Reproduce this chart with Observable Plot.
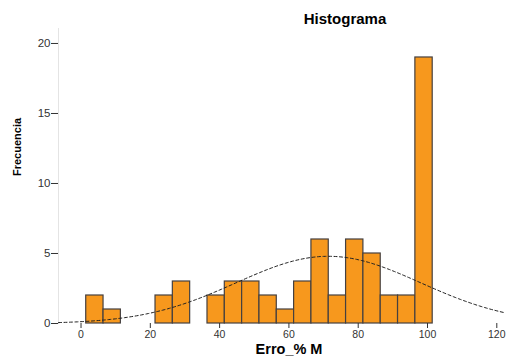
<!DOCTYPE html>
<html>
<head>
<meta charset="utf-8">
<script src="https://cdn.jsdelivr.net/npm/d3@7"></script>
<script src="https://cdn.jsdelivr.net/npm/@observablehq/plot@0.6"></script>
<style>
  html, body { margin: 0; padding: 0; background: white; }
</style>
</head>
<body>
<div id="chart"></div>
<script>
// Bin lower edges (bin width 5) and frequencies
const binLo = [1.5, 6.5, 21.5, 26.5, 36.5, 41.5, 46.5, 51.5, 56.5, 61.5, 66.5, 71.5, 76.5, 81.5, 86.5, 91.5, 96.5];
const counts = [2, 1, 2, 3, 2, 3, 3, 2, 1, 3, 6, 2, 6, 5, 2, 2, 19];
const binWidth = 5;
const xTicks = [0, 20, 40, 60, 80, 100, 120];
const yTicks = [0, 5, 10, 15, 20];
// Fitted normal curve parameters
const normalMean = 71.4;
const normalSd = 26.6;

const titleText = "Histograma";
const xLabel = "Erro_% M";
const yLabel = "Frecuencia";

const xDomain = [-6.5, 122.8];
const yDomain = [0, 21.07];

const bins = binLo.map((lo, i) => ({x1: lo, x2: lo + binWidth, y: counts[i]}));
const total = d3.sum(counts);
const curve = d3.range(xDomain[0], xDomain[1] + 0.01, 0.5).map(x => ({
  x,
  y: total * binWidth * Math.exp(-0.5 * ((x - normalMean) / normalSd) ** 2) / (normalSd * Math.sqrt(2 * Math.PI))
}));

const svg = Plot.plot({
  width: 506,
  height: 356,
  marginLeft: 58,
  marginRight: 0,
  marginTop: 28,
  marginBottom: 33,
  style: {fontFamily: "'Liberation Sans', Arial, sans-serif", fontSize: "10px", color: "#333", background: "white"},
  x: {domain: xDomain, axis: null},
  y: {domain: yDomain, axis: null},
  marks: [
    Plot.frame({anchor: "left", stroke: "#e4e4e4"}),
    Plot.rectY(bins, {x1: "x1", x2: "x2", y: "y", fill: "#F7981D", stroke: "#454040", strokeWidth: 1.2}),
    Plot.line(curve, {x: "x", y: "y", stroke: "#222", strokeWidth: 1, strokeDasharray: "3,2.5"}),
    Plot.axisX({ticks: xTicks, tickSize: 5, tickPadding: 2, label: null, stroke: "#333", fontSize: 10.5}),
    Plot.axisY({ticks: yTicks, tickSize: 7, tickPadding: 1, label: null, stroke: "#333", fontSize: 11.5}),
    Plot.text([titleText], {frameAnchor: "top", text: d => d, dx: 62.5, dy: -9, lineAnchor: "middle",
      fontWeight: "bold", fontSize: 15, fill: "black"}),
    Plot.text([xLabel], {frameAnchor: "bottom", text: d => d, dx: 6.5, dy: 26, lineAnchor: "middle",
      fontWeight: "bold", fontSize: 14.5, fill: "black"}),
    Plot.text([yLabel], {frameAnchor: "left", text: d => d, dx: -41.5, rotate: -90, lineAnchor: "middle",
      fontWeight: "bold", fontSize: 11, fill: "black"})
  ]
});
document.getElementById("chart").appendChild(svg);
</script>
</body>
</html>
